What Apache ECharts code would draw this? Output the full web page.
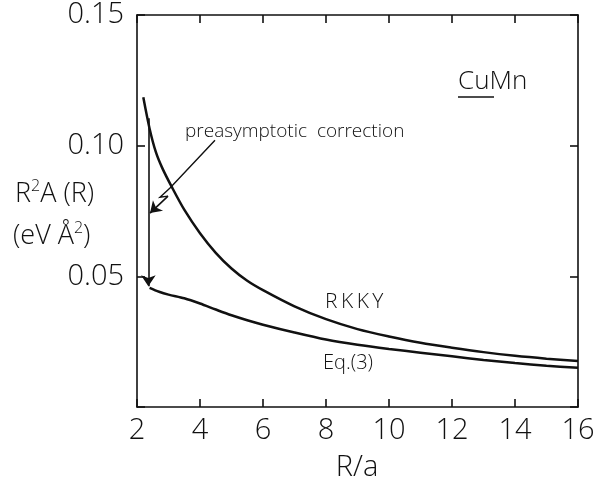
<!DOCTYPE html>
<html><head><meta charset="utf-8">
<script src="https://cdn.jsdelivr.net/npm/echarts@6/dist/echarts.min.js"></script>
<style>html,body{margin:0;padding:0;background:#fff}#c{width:603px;height:484px}</style>
</head><body><div id="c"></div>
<script>
// Data
const rkkyX = [2.2, 2.4, 2.6, 2.8, 3.1, 3.5, 4.0, 4.5, 5.0, 5.5, 6.0, 7.0, 8.0, 9.0, 10.0, 11.0, 12.0, 13.0, 14.0, 15.0, 16.0];
const rkkyY = [0.1185, 0.1065, 0.0975, 0.0915, 0.0843, 0.0755, 0.0665, 0.0590, 0.0530, 0.0483, 0.0447, 0.0385, 0.0336, 0.0298, 0.0270, 0.0246, 0.0227, 0.0210, 0.0196, 0.0185, 0.0176];
const eq3X = [2.4, 2.7, 3.0, 3.5, 4.0, 4.5, 5.0, 5.5, 6.0, 7.0, 8.0, 9.0, 10.0, 11.0, 12.0, 13.0, 14.0, 15.0, 16.0];
const eq3Y = [0.0456, 0.0441, 0.0430, 0.0416, 0.0396, 0.0373, 0.0351, 0.0332, 0.0315, 0.0285, 0.0258, 0.0238, 0.0222, 0.0208, 0.0194, 0.0180, 0.0168, 0.0158, 0.0150];
const xTicks = [2, 4, 6, 8, 10, 12, 14, 16];
const yTickLabels = ['0.05', '0.10', '0.15'];
// annotation paths (data coordinates)
const pointerPath = [[4.476, 0.1021], [3.048, 0.0838], [2.73, 0.0803], [2.984, 0.0807]];
const pointerTip = [[2.984, 0.0807], [2.413, 0.0742]];
const correctionArrow = [[2.36, 0.1105], [2.36, 0.0462]];

const FONT = '"Open Sans", "DejaVu Sans", sans-serif';
const INK = '#111';
const chart = echarts.init(document.getElementById('c'));
const zip = (xs, ys) => xs.map((x, i) => [x, ys[i]]);
const mkLine = () => ({show: true, onZero: false, lineStyle: {color: INK, width: 1.6}});
const mkTick = () => ({show: true, inside: true, length: 8, lineStyle: {color: INK, width: 1.6}});

chart.setOption({
  animation: false,
  backgroundColor: '#fff',
  grid: {left: 137, right: 25, top: 15, bottom: 77},
  xAxis: [
    {type: 'value', min: 2, max: 16, interval: 2, position: 'bottom',
     axisLine: mkLine(), axisTick: mkTick(), splitLine: {show: false},
     axisLabel: {margin: 9, fontSize: 29, color: INK, fontFamily: FONT, fontWeight: 300,
       formatter: v => xTicks.includes(v) ? String(v) : ''}},
    {type: 'value', min: 2, max: 16, interval: 2, position: 'top',
     axisLine: mkLine(), axisTick: mkTick(), splitLine: {show: false}, axisLabel: {show: false}}
  ],
  yAxis: [
    {type: 'value', min: 0, max: 0.15, interval: 0.05, position: 'left',
     axisLine: mkLine(), axisTick: mkTick(), splitLine: {show: false},
     axisLabel: {margin: 13, fontSize: 29, color: INK, fontFamily: FONT, fontWeight: 300,
       formatter: v => { const s = v.toFixed(2); return yTickLabels.includes(s) ? s : ''; }}},
    {type: 'value', min: 0, max: 0.15, interval: 0.05, position: 'right',
     axisLine: mkLine(), axisTick: mkTick(), splitLine: {show: false}, axisLabel: {show: false}}
  ],
  series: [
    {type: 'line', name: 'RKKY', data: zip(rkkyX, rkkyY), smooth: 0.3, showSymbol: false,
     lineStyle: {color: INK, width: 2.5}},
    {type: 'line', name: 'Eq.(3)', data: zip(eq3X, eq3Y), smooth: 0.3, showSymbol: false,
     lineStyle: {color: INK, width: 2.5}},
    {type: 'lines', coordinateSystem: 'cartesian2d', polyline: true,
     lineStyle: {color: INK, width: 1.4, opacity: 1},
     data: [{coords: pointerPath}]},
    {type: 'lines', coordinateSystem: 'cartesian2d',
     symbol: ['none', 'arrow'], symbolSize: [7, 11],
     lineStyle: {color: INK, width: 1.6, opacity: 1},
     data: [{coords: pointerTip}, {coords: correctionArrow}]}
  ],
  graphic: [
    {type: 'text', x: 185, y: 132, style: {text: 'preasymptotic  correction', font: '300 19px ' + FONT, fill: INK, textVerticalAlign: 'middle'}},
    {type: 'text', x: 458, y: 82, style: {text: 'CuMn', font: '300 26px ' + FONT, fill: INK, textVerticalAlign: 'middle'}},
    {type: 'line', shape: {x1: 458, y1: 97, x2: 494, y2: 97}, style: {stroke: INK, lineWidth: 1.5}},
    {type: 'text', x: 325, y: 302, style: {text: 'R\u2009K\u2009K\u2009Y', font: '300 21px ' + FONT, fill: INK, textVerticalAlign: 'middle'}},
    {type: 'text', x: 323, y: 363, style: {text: 'Eq.(3)', font: '300 20px ' + FONT, fill: INK, textVerticalAlign: 'middle'}},
    {type: 'text', x: 15, y: 193, style: {text: '{b|R}{s|2}{b|A (R)}', textVerticalAlign: 'middle', fill: INK,
      rich: {b: {fontSize: 27, fontFamily: FONT, fontWeight: 300, color: INK, lineHeight: 30, verticalAlign: 'bottom'},
             s: {fontSize: 16, fontFamily: FONT, fontWeight: 300, color: INK, lineHeight: 30, verticalAlign: 'top'}}}},
    {type: 'text', x: 13, y: 235, style: {text: '{b|(eV Å}{s|2}{b|)}', textVerticalAlign: 'middle', fill: INK,
      rich: {b: {fontSize: 27, fontFamily: FONT, fontWeight: 300, color: INK, lineHeight: 30, verticalAlign: 'bottom'},
             s: {fontSize: 16, fontFamily: FONT, fontWeight: 300, color: INK, lineHeight: 30, verticalAlign: 'top'}}}},
    {type: 'text', x: 357, y: 468, style: {text: 'R/a', font: '300 29px ' + FONT, fill: INK, textAlign: 'center', textVerticalAlign: 'middle'}}
  ]
});
</script></body></html>
